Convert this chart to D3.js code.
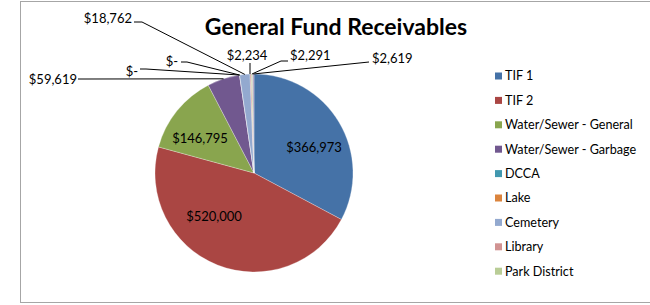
<!DOCTYPE html>
<html>
<head>
<meta charset="utf-8">
<script src="https://cdn.jsdelivr.net/npm/d3@7"></script>
<style>
  body { margin: 0; background: #fff; }
  text { font-family: Lato, "Open Sans", sans-serif; fill: #000; }
</style>
</head>
<body>
<div id="chart-area"></div>
<script>
// data
const categories = ["TIF 1", "TIF 2", "Water/Sewer - General", "Water/Sewer - Garbage",
  "DCCA", "Lake", "Cemetery", "Library", "Park District", "Other"];
const amounts = [366973, 520000, 146795, 59619, 0, 0, 18762, 2234, 2291, 2619];
const labelTexts = ["$366,973", "$520,000", "$146,795", "$59,619", "$-", "$-",
  "$18,762", "$2,234", "$2,291", "$2,619"];
const legendCount = 9; // the 10th legend row is cut off in the original

const colors = ["#4572A7", "#AA4643", "#89A54E", "#71588F", "#4198AF",
  "#DB843D", "#93A9CF", "#D19392", "#B9CD96", "#A99BBD"];

// label layout: text centre, anchor, and where the leader line leaves the text
const labelLayout = [
  { x: 314, y: 147, inside: true },
  { x: 214, y: 216, inside: true },
  { x: 200, y: 138, inside: true },
  { x: 77, y: 79, anchor: "end", lx: 78, ly: 79, elbow: 86 },
  { x: 138, y: 71, anchor: "end", lx: 140, ly: 69, elbow: 146 },
  { x: 178, y: 61, anchor: "end", lx: 181, ly: 62, elbow: 187 },
  { x: 132, y: 18, anchor: "end", lx: 134, ly: 22, elbow: 142 },
  { x: 247, y: 55, anchor: "middle", lx: 250, ly: 63, vertical: true },
  { x: 290, y: 55, anchor: "start", lx: 288, ly: 61, elbow: 281 },
  { x: 372, y: 58, anchor: "start", lx: 369, ly: 62, elbow: 369 }
];

const WIDTH = 650, HEIGHT = 305;
const CX = 254, CY = 173, R = 99;

const svg = d3.select("#chart-area")
  .append("svg")
    .attr("width", WIDTH)
    .attr("height", HEIGHT);

svg.append("rect")
  .attr("x", 0).attr("y", 0)
  .attr("width", WIDTH).attr("height", HEIGHT)
  .attr("fill", "#fff");

// chart border
svg.append("rect")
  .attr("x", 20.5).attr("y", 1.5)
  .attr("width", 640).attr("height", 301)
  .attr("fill", "none")
  .attr("stroke", "#A6A6A6")
  .attr("stroke-width", 1);

// title
svg.append("text")
  .attr("x", 336)
  .attr("y", 35)
  .attr("text-anchor", "middle")
  .attr("font-size", "23px")
  .attr("font-weight", "bold")
  .text("General Fund Receivables");

const pie = d3.pie().sort(null).value(d => d);
const arcs = pie(amounts);
const arc = d3.arc().innerRadius(0).outerRadius(R);

const g = svg.append("g")
  .attr("transform", `translate(${CX}, ${CY})`);

g.selectAll("path.slice")
  .data(arcs)
  .enter()
  .append("path")
    .attr("class", "slice")
    .attr("d", arc)
    .attr("fill", (d, i) => colors[i])
    .attr("stroke", "#fff")
    .attr("stroke-width", 0.4)
    .attr("stroke-opacity", 0.7);

// point on the rim at the middle of a slice
const rimPoint = d => {
  const a = (d.startAngle + d.endAngle) / 2;
  return [CX + R * Math.sin(a), CY - R * Math.cos(a)];
};

// leader lines
arcs.forEach((d, i) => {
  const L = labelLayout[i];
  if (L.inside) return;
  const [px, py] = rimPoint(d);
  let pts;
  if (L.vertical) pts = [[L.lx, L.ly], [L.lx, py]];
  else pts = [[L.lx, L.ly], [L.elbow, L.ly], [px, py]];
  svg.append("path")
    .attr("d", d3.line()(pts))
    .attr("fill", "none")
    .attr("stroke", "#000")
    .attr("stroke-width", 1);
});

// data labels
svg.selectAll("text.dlabel")
  .data(arcs)
  .enter()
  .append("text")
    .attr("class", "dlabel")
    .attr("x", (d, i) => labelLayout[i].x)
    .attr("y", (d, i) => labelLayout[i].y)
    .attr("dy", "0.35em")
    .attr("text-anchor", (d, i) => labelLayout[i].inside ? "middle" : labelLayout[i].anchor)
    .attr("font-size", "13px")
    .text((d, i) => labelTexts[i]);

// legend
const legend = svg.append("g")
  .attr("transform", "translate(495, 76)");

const rows = legend.selectAll("g")
  .data(categories.slice(0, legendCount))
  .enter()
  .append("g")
    .attr("transform", (d, i) => `translate(0, ${i * 24.4})`);

rows.append("rect")
  .attr("x", 0).attr("y", -3.5)
  .attr("width", 7).attr("height", 7)
  .attr("fill", (d, i) => colors[i]);

rows.append("text")
  .attr("x", 10)
  .attr("y", 0)
  .attr("dy", "0.35em")
  .attr("font-size", "12.6px")
  .text(d => d);
</script>
</body>
</html>
